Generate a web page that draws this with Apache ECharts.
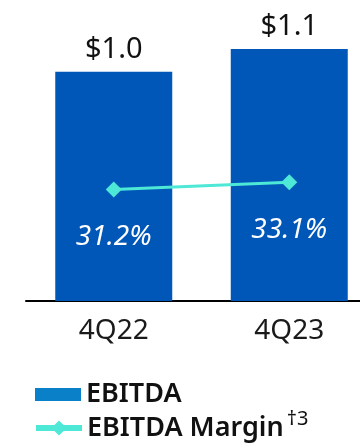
<!DOCTYPE html>
<html>
<head>
<meta charset="utf-8">
<script src="https://cdn.jsdelivr.net/npm/echarts@6/dist/echarts.min.js"></script>
<style>
  html, body { margin: 0; padding: 0; background: #fff; }
  #chart { width: 360px; height: 445px; }
</style>
</head>
<body>
<div id="chart"></div>
<script>
// Quarterly EBITDA ($B) and EBITDA margin (%)
const quarters = ['4Q22', '4Q23'];
const ebitda = [1.0, 1.1];
const ebitdaMargin = [31.2, 33.1];
const seriesNames = ['EBITDA', 'EBITDA Margin'];

const FONT = '"Noto Sans", "Open Sans", sans-serif';
const BAR_BLUE = '#0057B8';
const TEAL = '#4DE8D6';

const chart = echarts.init(document.getElementById('chart'), null, { renderer: 'canvas' });

chart.setOption({
  animation: false,
  backgroundColor: '#ffffff',
  textStyle: { fontFamily: FONT },
  // plot area runs past the right edge, so the second bar sits near the border
  grid: { left: 26, top: 26, width: 351, height: 275, containLabel: false, outerBoundsMode: 'none' },
  xAxis: {
    type: 'category',
    data: quarters,
    axisLine: { lineStyle: { color: '#000', width: 2 } },
    axisTick: { show: false },
    axisLabel: { fontSize: 28, color: '#1a1a1a', margin: 16, fontFamily: FONT }
  },
  yAxis: [
    { type: 'value', min: 0, max: 1.2, show: false },
    { type: 'value', min: 2, max: 74, show: false }
  ],
  legend: [
    {
      orient: 'vertical', left: 30, top: 376,
      itemWidth: 46, itemHeight: 13, icon: 'rect', itemGap: 8,
      data: [{ name: seriesNames[0], itemStyle: { color: '#0A80C8' } }],
      textStyle: { fontSize: 27, fontWeight: 600, color: '#111', fontFamily: FONT }
    },
    {
      orient: 'vertical', left: 28, top: 404,
      itemWidth: 46, itemHeight: 19, itemGap: 8,
      data: [{ name: seriesNames[1], lineStyle: { width: 6 } }],
      formatter: name => name + '{sup|†3}',
      textStyle: {
        fontSize: 27, fontWeight: 600, color: '#111', fontFamily: FONT,
        rich: { sup: { fontSize: 20, fontWeight: 400, color: '#111', padding: [0, 0, 18, 3], fontFamily: FONT } }
      }
    }
  ],
  series: [
    {
      name: seriesNames[0],
      type: 'bar',
      data: ebitda,
      barWidth: 117,
      itemStyle: { color: BAR_BLUE },
      label: {
        show: true, position: 'top', distance: 8,
        fontSize: 29, color: '#111', fontFamily: FONT,
        formatter: p => '$' + p.value.toFixed(1)
      }
    },
    {
      name: seriesNames[1],
      type: 'line',
      yAxisIndex: 1,
      data: ebitdaMargin,
      symbol: 'diamond',
      symbolSize: 16,
      lineStyle: { color: TEAL, width: 3 },
      itemStyle: { color: TEAL },
      label: {
        show: true, position: 'bottom', distance: 26,
        fontSize: 28, fontStyle: 'italic', color: '#fff', fontFamily: FONT,
        formatter: p => p.value.toFixed(1) + '%'
      }
    }
  ]
});
</script>
</body>
</html>
